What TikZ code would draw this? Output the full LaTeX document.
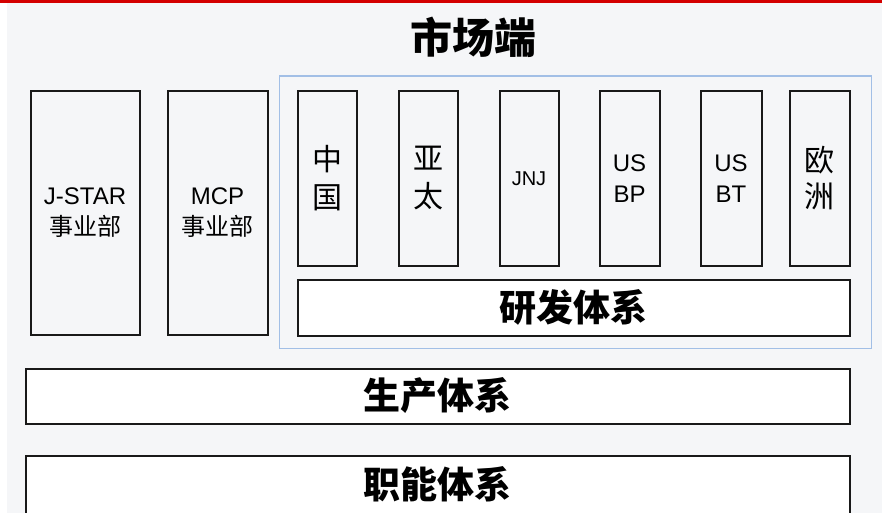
\documentclass[tikz,border=0pt]{standalone}
\usepackage{fontspec}
\setmainfont{Liberation Sans}
\newfontfamily\cjk{Noto Sans CJK SC}
\begin{document}
\begin{tikzpicture}[x=1pt,y=-1pt,
  tall/.style={draw=black!90,line width=2pt,anchor=north west,inner sep=0pt,align=center},
  wide/.style={draw=black!90,line width=2pt,fill=white,anchor=north west,inner sep=0pt},
  grp/.style={draw=grpblue,line width=1.8pt,anchor=north west,inner sep=0pt},
  bigtxt/.style={font=\cjk\bfseries\fontsize{37}{40}\selectfont}]
\definecolor{bgcol}{HTML}{F5F6F8}
\definecolor{grpblue}{HTML}{A2BFE6}
\definecolor{topred}{HTML}{D40000}
\useasboundingbox (0,0) rectangle (882,513);
\fill[bgcol] (7,3) rectangle (882,513);
\fill[topred] (0,0) rectangle (882,3.5);
% title
\node[font=\cjk\bfseries\fontsize{42}{46}\selectfont] (title) at (473,37) {市场端};
% group box
\node[grp,minimum width=592pt,minimum height=272pt] (grp) at (278.5,75.5) {};
% left boxes
\node[tall,minimum width=109pt,minimum height=243pt,font=\fontsize{24}{31}\selectfont] (jstar) at (29.5,90.5) {J-STAR\\{\cjk 事业部}};
\node[tall,minimum width=100pt,minimum height=243pt,font=\fontsize{24}{31}\selectfont] (mcp) at (166.5,90.5) {MCP\\{\cjk 事业部}};
% market boxes
\node[tall,minimum width=59pt,minimum height=174pt,font=\cjk\fontsize{30}{38}\selectfont] (cn) at (296.5,90.5) {中\\国};
\node[tall,minimum width=59pt,minimum height=174pt,font=\cjk\fontsize{30}{38}\selectfont] (ap) at (397.5,90.5) {亚\\太};
\node[tall,minimum width=59pt,minimum height=174pt,font=\fontsize{20}{24}\selectfont] (jnj) at (498.5,90.5) {JNJ};
\node[tall,minimum width=60pt,minimum height=174pt,font=\fontsize{24}{31}\selectfont] (usbp) at (598.5,90.5) {US\\BP};
\node[tall,minimum width=61pt,minimum height=174pt,font=\fontsize{24}{31}\selectfont] (usbt) at (699.5,90.5) {US\\BT};
\node[tall,minimum width=60pt,minimum height=174pt,font=\cjk\fontsize{30}{36}\selectfont] (eu) at (788.5,90.5) {欧\\洲};
% wide boxes
\node[wide,minimum width=552pt,minimum height=56pt,bigtxt] (rd) at (296.5,278.5) {研发体系};
\node[wide,minimum width=824pt,minimum height=55pt,bigtxt] (prod) at (24.5,367.5) {生产体系};
\node[wide,minimum width=824pt,minimum height=58pt,bigtxt] (func) at (24.5,454.5) {职能体系};
\end{tikzpicture}
\end{document}
